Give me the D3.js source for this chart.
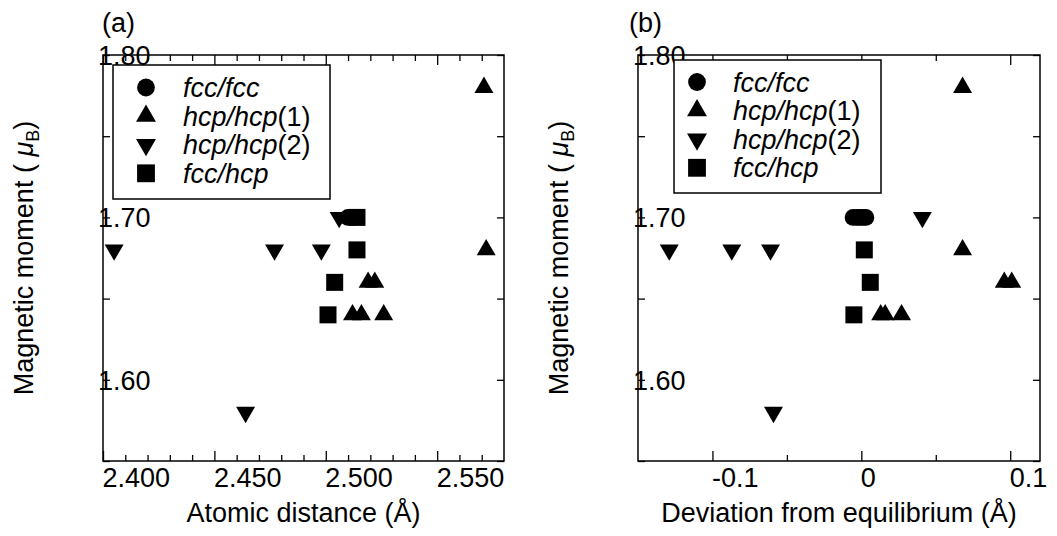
<!DOCTYPE html>
<html>
<head>
<meta charset="utf-8">
<script src="https://cdn.jsdelivr.net/npm/d3@7"></script>
<style>
  html, body { margin: 0; padding: 0; background: #fff; }
  svg text { font-family: "Liberation Sans", Arial, Helvetica, sans-serif; fill: #000; }
</style>
</head>
<body>
<svg id="chart" width="1057" height="536"></svg>
<script>
// ---------- data ----------
const seriesNames = ["fcc/fcc", "hcp/hcp(1)", "hcp/hcp(2)", "fcc/hcp"];

// Panel (a): atomic distance (Å) vs magnetic moment (μB)
const aFccFcc   = [[2.510, 1.70], [2.512, 1.70]];
const aHcpHcp1  = [[2.571, 1.78], [2.572, 1.68], [2.519, 1.66], [2.522, 1.66],
                   [2.512, 1.64], [2.516, 1.64], [2.526, 1.64]];
const aHcpHcp2  = [[2.405, 1.68], [2.477, 1.68], [2.498, 1.68], [2.506, 1.70], [2.464, 1.58]];
const aFccHcp   = [[2.514, 1.70], [2.514, 1.68], [2.504, 1.66], [2.501, 1.64]];

// Panel (b): deviation from equilibrium (Å) vs magnetic moment (μB)
const bFccFcc   = [[-0.0055, 1.70], [-0.003, 1.70], [-0.001, 1.70], [0.001, 1.70], [0.003, 1.70]];
const bHcpHcp1  = [[0.068, 1.78], [0.068, 1.68], [0.096, 1.66], [0.101, 1.66],
                   [0.013, 1.64], [0.016, 1.64], [0.027, 1.64]];
const bHcpHcp2  = [[-0.129, 1.68], [-0.087, 1.68], [-0.061, 1.68], [0.041, 1.70], [-0.059, 1.58]];
const bFccHcp   = [[0.002, 1.68], [0.006, 1.66], [-0.005, 1.64]];

// ticks
const aXMajor = [2.40, 2.45, 2.50, 2.55];
const aXLabels = ["2.400", "2.450", "2.500", "2.550"];
const aXMinor = [2.41, 2.42, 2.43, 2.44, 2.46, 2.47, 2.48, 2.49, 2.51, 2.52, 2.53, 2.54, 2.56, 2.57];
const bXMajor = [-0.1, 0, 0.1];
const bXLabels = ["-0.1", "0", "0.1"];
const bXMinor = [-0.05, 0.05];
const yMajor = [1.55, 1.60, 1.65, 1.70, 1.75, 1.80];
const yLabelVals = [1.60, 1.70, 1.80];
const yLabels = ["1.60", "1.70", "1.80"];

// ---------- drawing ----------
const svg = d3.select("#chart");
const FS = 27;
const symTypes = [d3.symbolCircle, d3.symbolTriangle, d3.symbolTriangle, d3.symbolSquare];
const symSizes = [225, 156, 156, 289];
const symRot = [0, 0, 180, 0];

function drawPanel(cfg) {
  const {left, right, top, bottom, xDomain, xMajor, xLabels, xMinor, series, title, titleX,
         xTitle, legend} = cfg;
  const x = d3.scaleLinear().domain(xDomain).range([left, right]);
  const y = d3.scaleLinear().domain([1.55, 1.80]).range([bottom, top]);
  const g = svg.append("g");

  // frame
  g.append("rect").attr("x", left).attr("y", top)
    .attr("width", right - left).attr("height", bottom - top)
    .attr("fill", "none").attr("stroke", "#000").attr("stroke-width", 1.5);

  function styleAxis(sel) {
    sel.select(".domain").remove();
    sel.selectAll("line").attr("stroke", "#000").attr("stroke-width", 1.3);
  }

  // bottom axis major with labels
  const bMaj = g.append("g").attr("transform", `translate(0,${bottom})`)
    .call(d3.axisBottom(x).tickValues(xMajor).tickSize(-10).tickFormat((d, i) => xLabels[i]));
  styleAxis(bMaj);
  bMaj.selectAll("text").attr("text-anchor", "start").attr("x", -1).attr("y", 26).attr("dy", null)
    .style("font-size", FS + "px").style("font-family", '"Liberation Sans", Arial, sans-serif');
  const bMin = g.append("g").attr("transform", `translate(0,${bottom})`)
    .call(d3.axisBottom(x).tickValues(xMinor).tickSize(-6).tickFormat(""));
  styleAxis(bMin);
  // top axis mirrored
  const tMaj = g.append("g").attr("transform", `translate(0,${top})`)
    .call(d3.axisTop(x).tickValues(xMajor).tickSize(-10).tickFormat(""));
  styleAxis(tMaj);
  const tMin = g.append("g").attr("transform", `translate(0,${top})`)
    .call(d3.axisTop(x).tickValues(xMinor).tickSize(-6).tickFormat(""));
  styleAxis(tMin);
  // left axis
  const lAx = g.append("g").attr("transform", `translate(${left},0)`)
    .call(d3.axisLeft(y).tickValues(yMajor).tickSize(-7).tickFormat(d => {
      const k = yLabelVals.findIndex(v => Math.abs(v - d) < 1e-9);
      return k >= 0 ? yLabels[k] : "";
    }));
  styleAxis(lAx);
  lAx.selectAll("text").attr("text-anchor", "start").attr("x", -5).attr("dy", "0.35em")
    .style("font-size", FS + "px").style("font-family", '"Liberation Sans", Arial, sans-serif');
  // right axis
  const rAx = g.append("g").attr("transform", `translate(${right},0)`)
    .call(d3.axisRight(y).tickValues(yMajor).tickSize(-7).tickFormat(""));
  styleAxis(rAx);

  // panel title
  g.append("text").attr("x", titleX).attr("y", 32).style("font-size", FS + "px").text(title);

  // x title
  g.append("text").attr("x", (left + right) / 2).attr("y", 522).attr("text-anchor", "middle")
    .style("font-size", FS + "px").text(xTitle);

  // y title
  const yt = g.append("text")
    .attr("transform", `translate(${left - 70},${(top + bottom) / 2}) rotate(-90)`)
    .attr("text-anchor", "middle").style("font-size", FS + "px");
  yt.append("tspan").text("Magnetic moment ( ");
  yt.append("tspan").style("font-style", "italic").text("μ");
  yt.append("tspan").style("font-size", "18px").attr("dy", 6).text("B");
  yt.append("tspan").attr("dy", -6).text(")");

  // legend
  const lg = g.append("g");
  lg.append("rect").attr("x", legend.x).attr("y", legend.y)
    .attr("width", legend.w).attr("height", legend.h)
    .attr("fill", "#fff").attr("stroke", "#000").attr("stroke-width", 1.5);
  seriesNames.forEach((name, i) => {
    const cy = legend.row0 + i * 28.6;
    lg.append("path")
      .attr("d", d3.symbol().type(symTypes[i]).size(symSizes[i] * 1.1)())
      .attr("transform", `translate(${legend.symX},${cy}) rotate(${symRot[i]})`)
      .attr("fill", "#000");
    const t = lg.append("text").attr("x", legend.textX).attr("y", cy + 9.5)
      .style("font-size", FS + "px");
    const m = name.match(/^([a-z\/]+)(\(\d\))?$/);
    t.append("tspan").style("font-style", "italic").text(m[1]);
    if (m[2]) t.append("tspan").text(m[2]);
  });

  // points
  series.forEach((data, i) => {
    g.append("g").selectAll("path").data(data).join("path")
      .attr("d", d3.symbol().type(symTypes[i]).size(symSizes[i])())
      .attr("transform", d => `translate(${x(d[0])},${y(d[1])}) rotate(${symRot[i]})`)
      .attr("fill", "#000");
  });
}

drawPanel({
  left: 103, right: 504, top: 55, bottom: 461,
  xDomain: [2.40, 2.58], xMajor: aXMajor, xLabels: aXLabels, xMinor: aXMinor,
  series: [aFccFcc, aHcpHcp1, aHcpHcp2, aFccHcp],
  title: "(a)", titleX: 102, xTitle: "Atomic distance (Å)",
  legend: {x: 113, y: 65, w: 217, h: 134, symX: 146, textX: 183, row0: 87.5}
});

drawPanel({
  left: 638, right: 1040, top: 55, bottom: 461,
  xDomain: [-0.15, 0.12], xMajor: bXMajor, xLabels: bXLabels, xMinor: bXMinor,
  series: [bFccFcc, bHcpHcp1, bHcpHcp2, bFccHcp],
  title: "(b)", titleX: 629, xTitle: "Deviation from equilibrium (Å)",
  legend: {x: 674, y: 60, w: 207, h: 133, symX: 697, textX: 733, row0: 82}
});
</script>
</body>
</html>
